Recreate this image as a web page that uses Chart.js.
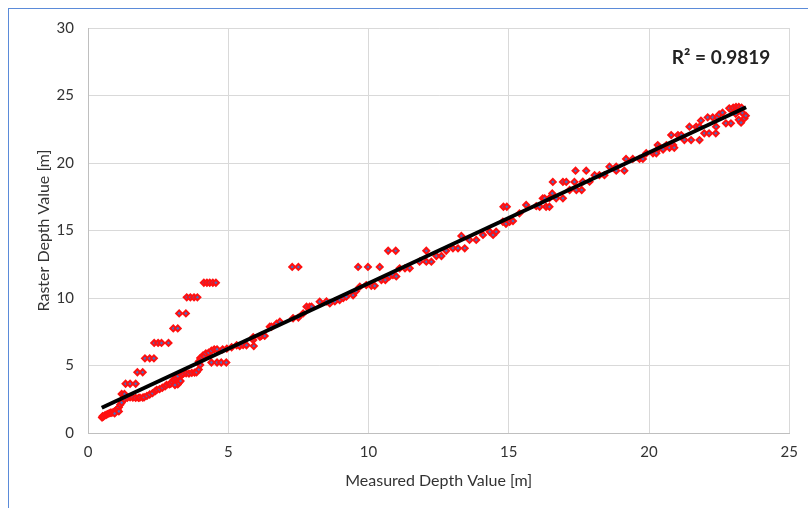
<!DOCTYPE html>
<html>
<head>
<meta charset="utf-8">
<script src="https://cdn.jsdelivr.net/npm/chart.js@4/dist/chart.umd.min.js"></script>
<style>
  body { margin: 0; background: #fff; }
  #frame { position: absolute; left: 8px; top: 8px; width: 820px; height: 520px;
           border-left: 1px solid #5b8bd9; border-top: 1px solid #5b8bd9; }
  #wrap { position: absolute; left: 0; top: 0; width: 808px; height: 508px; }
</style>
</head>
<body>
<div id="frame"></div>
<div id="wrap"><canvas id="chart" width="808" height="508"></canvas></div>
<script>
// measured depth (x) and raster depth (y)
const measured = [
  0.50,0.52,0.55,0.60,0.65,0.70,0.75,0.80,0.85,0.90,0.95,1.00,1.05,1.10,1.15,1.20,1.10,0.95,
  1.20,1.30,1.34,1.50,1.70,1.76,1.95,2.03,2.20,2.35,2.36,2.50,2.62,2.87,3.04,3.20,3.25,3.49,
  3.52,3.65,3.78,3.90,4.13,4.24,4.34,4.45,4.56,4.40,4.60,4.75,4.93,
  1.30,1.40,1.50,1.60,1.70,1.80,1.85,1.95,2.00,2.10,2.20,2.30,2.40,2.45,2.55,2.65,2.75,2.80,
  2.90,2.95,3.00,3.05,3.10,3.15,3.20,3.25,3.30,3.20,3.10,3.35,3.40,3.50,3.60,3.70,3.80,3.87,
  3.95,4.00,3.95,4.00,4.05,4.10,4.15,4.20,4.30,4.40,4.50,4.60,4.80,4.95,
  5.12,5.30,5.41,5.53,5.65,5.89,5.91,5.89,6.13,6.18,6.30,6.48,6.54,6.72,6.84,
  7.31,7.50,7.67,7.79,7.90,7.97,8.26,8.50,8.62,8.80,8.97,9.10,9.21,9.45,9.55,9.69,9.92,10.10,
  10.22,10.46,10.60,10.75,10.87,10.99,11.11,11.30,11.47,
  7.28,7.50,9.63,9.98,10.40,10.70,10.97,12.06,13.31,14.81,14.93,
  11.82,12.06,12.24,12.42,12.60,12.77,13.01,13.19,13.43,13.60,13.84,14.08,14.32,14.44,14.55,
  14.79,14.90,15.03,15.15,15.38,15.62,15.98,16.10,16.21,16.28,16.33,16.45,16.45,
  16.55,16.57,16.69,16.93,16.93,17.05,17.17,17.34,17.38,17.41,17.60,17.64,17.76,17.88,18.06,
  18.23,18.41,18.59,18.83,18.83,19.12,19.18,19.42,19.66,19.78,19.90,20.14,20.26,20.31,20.37,
  20.50,20.62,20.73,20.79,20.86,20.90,21.03,21.15,21.26,21.44,21.50,21.68,21.80,21.80,
  21.85,21.97,22.09,22.14,22.27,22.38,22.39,22.44,22.50,22.62,22.74,22.86,22.92,22.95,23.00,
  23.05,23.09,23.10,23.15,23.20,23.20,23.25,23.28,23.30,23.33,23.40,23.45
];
const raster = [
  1.15,1.25,1.21,1.30,1.35,1.40,1.45,1.50,1.50,1.55,1.60,1.70,1.75,1.90,2.10,2.25,1.60,1.45,
  2.89,2.89,3.65,3.65,3.65,4.50,4.50,5.53,5.53,5.53,6.67,6.67,6.67,6.67,7.75,7.75,8.86,8.86,
  10.05,10.05,10.05,10.05,11.13,11.13,11.13,11.13,11.13,5.22,5.22,5.22,5.22,
  2.50,2.60,2.65,2.62,2.60,2.60,2.62,2.62,2.65,2.75,2.85,2.95,3.10,3.20,3.25,3.35,3.45,3.56,
  3.60,3.65,3.80,3.93,4.00,4.10,4.20,3.75,3.85,3.60,3.55,4.30,4.40,4.42,4.40,4.45,4.47,4.50,
  4.70,5.04,5.30,5.55,5.60,5.75,5.70,5.90,5.95,6.10,6.20,6.20,6.20,6.25,
  6.35,6.50,6.44,6.52,6.50,6.89,6.44,7.10,7.13,7.19,7.19,7.87,7.87,8.10,8.24,
  8.50,8.55,8.86,9.36,9.36,9.36,9.73,9.75,9.60,9.75,9.85,10.00,10.10,10.20,10.50,10.84,10.96,10.90,
  10.90,11.33,11.33,11.60,11.70,11.60,12.20,12.20,12.20,
  12.30,12.30,12.30,12.30,12.30,13.50,13.50,13.50,14.60,16.76,16.76,
  12.69,12.69,12.69,13.11,13.11,13.50,13.68,13.68,13.68,14.30,14.30,14.67,14.91,14.67,14.91,
  15.65,15.50,15.65,15.70,16.27,16.89,16.80,16.76,17.38,17.38,16.76,16.76,17.40,
  17.75,18.60,17.38,17.38,18.60,18.60,18.00,18.60,19.43,18.00,18.00,18.62,19.43,18.62,19.10,
  19.10,19.10,19.73,19.73,19.43,19.43,20.30,20.30,20.30,20.30,20.72,20.72,20.72,21.33,21.13,
  21.00,21.33,21.13,22.07,21.33,21.13,22.07,22.07,21.70,22.69,21.70,22.69,21.70,22.69,
  23.14,22.20,23.38,22.20,23.38,22.20,22.69,23.38,23.60,23.73,22.94,24.05,22.94,23.90,24.10,
  23.80,23.64,24.15,24.00,24.15,23.20,23.90,22.99,24.10,23.70,23.30,23.50
];
// linear trendline end points
const trendX = [0.49, 23.46];
const trendY = [1.87, 24.13];
const rSquared = 'R² = 0.9819';

const xTicks = [0, 5, 10, 15, 20, 25];
const yTicks = [0, 5, 10, 15, 20, 25, 30];

const font = "Lato, 'Open Sans', sans-serif";

const points = measured.map((x, i) => ({ x: x, y: raster[i] }));
const trend = trendX.map((x, i) => ({ x: x, y: trendY[i] }));

const r2Label = {
  id: 'r2Label',
  afterDraw(chart) {
    const ctx = chart.ctx;
    const a = chart.chartArea;
    ctx.save();
    ctx.font = "bold 19px " + font;
    ctx.fillStyle = '#222';
    ctx.textAlign = 'right';
    ctx.textBaseline = 'middle';
    ctx.fillText(rSquared, a.right - 19, a.top + 30);
    ctx.restore();
  }
};

new Chart(document.getElementById('chart'), {
  type: 'scatter',
  data: {
    datasets: [{
      label: 'Trend',
      data: trend,
      showLine: true,
      borderColor: '#000',
      borderWidth: 4,
      pointRadius: 0,
      order: 0
    }, {
      label: 'Depth',
      data: points,
      pointStyle: 'rectRot',
      pointRadius: 3,
      backgroundColor: '#4a6fc0',
      borderColor: '#ff1010',
      borderWidth: 2,
      order: 1
    }]
  },
  plugins: [r2Label],
  options: {
    responsive: false,
    animation: false,
    layout: { padding: { left: 30, right: 18, top: 28, bottom: 14 } },
    plugins: { legend: { display: false }, tooltip: { enabled: false } },
    scales: {
      x: {
        type: 'linear',
        min: 0, max: 25,
        afterBuildTicks: s => { s.ticks = xTicks.map(v => ({ value: v })); },
        afterFit: s => { s.height = 61; },
        ticks: { color: '#333', font: { family: font, size: 15 }, padding: 10 },
        grid: { color: '#d9d9d9', drawTicks: false },
        border: { color: '#bfbfbf' },
        title: { display: true, text: 'Measured Depth Value [m]', color: '#333',
                 font: { family: font, size: 16 }, padding: { top: 5 } }
      },
      y: {
        type: 'linear',
        min: 0, max: 30,
        afterBuildTicks: s => { s.ticks = yTicks.map(v => ({ value: v })); },
        afterFit: s => { s.width = 58; },
        ticks: { color: '#333', font: { family: font, size: 15 }, padding: 14 },
        grid: { color: '#d9d9d9', drawTicks: false },
        border: { color: '#bfbfbf' },
        title: { display: true, text: 'Raster Depth Value [m]', color: '#333',
                 font: { family: font, size: 16 }, padding: { bottom: 2 } }
      }
    }
  }
});
</script>
</body>
</html>
